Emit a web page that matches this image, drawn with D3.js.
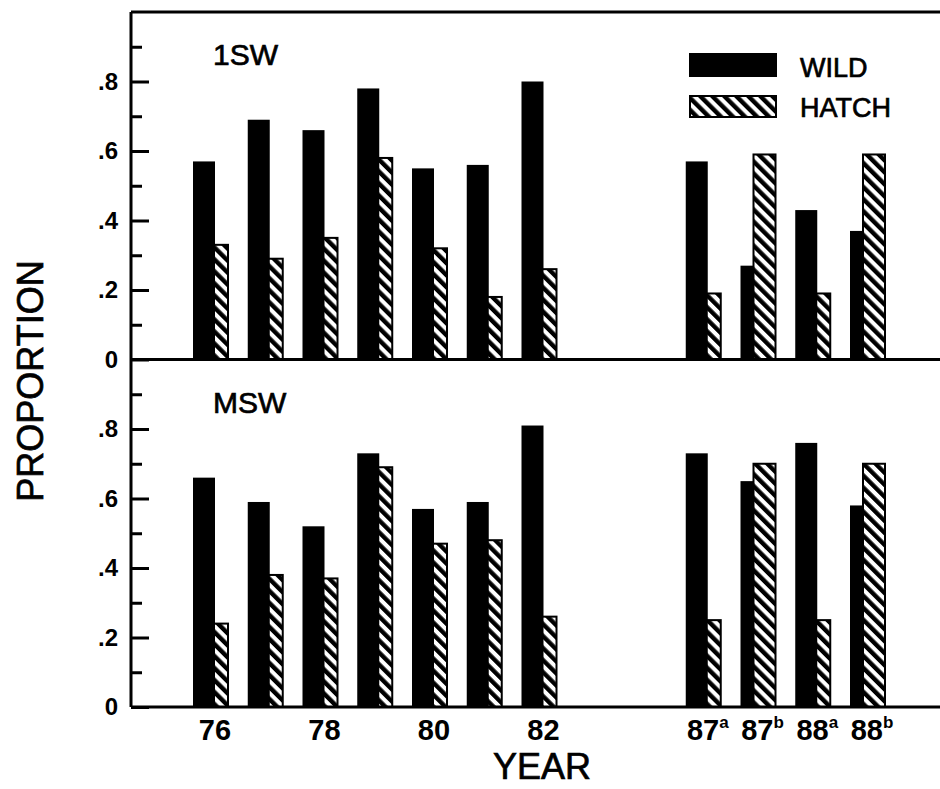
<!DOCTYPE html>
<html>
<head>
<meta charset="utf-8">
<script src="https://cdn.jsdelivr.net/npm/d3@7"></script>
<style>
  body { margin: 0; background: #fff; }
  svg { display: block; font-family: "Liberation Sans", Arial, sans-serif; }
  .heavy { stroke: #000; stroke-width: 0.7px; }
</style>
</head>
<body>
<div id="chart"></div>
<script>
// categories (year, with a/b samples for 87 and 88)
const years = ['76', '77', '78', '79', '80', '81', '82', '87a', '87b', '88a', '88b'];
const yearLabels = [
  ['76', ''], ['77', ''], ['78', ''], ['79', ''], ['80', ''], ['81', ''], ['82', ''],
  ['87', 'a'], ['87', 'b'], ['88', 'a'], ['88', 'b']
];
const shownLabels = ['76', '78', '80', '82', '87a', '87b', '88a', '88b'];

// proportions
const wild1SW  = [0.57, 0.69, 0.66, 0.78, 0.55, 0.56, 0.80, 0.57, 0.27, 0.43, 0.37];
const hatch1SW = [0.33, 0.29, 0.35, 0.58, 0.32, 0.18, 0.26, 0.19, 0.59, 0.19, 0.59];
const wildMSW  = [0.66, 0.59, 0.52, 0.73, 0.57, 0.59, 0.81, 0.73, 0.65, 0.76, 0.58];
const hatchMSW = [0.24, 0.38, 0.37, 0.69, 0.47, 0.48, 0.26, 0.25, 0.70, 0.25, 0.70];

const majorTicks = [0, 0.2, 0.4, 0.6, 0.8];
const minorTicks = [0.1, 0.3, 0.5, 0.7, 0.9];

const width = 940, height = 789;
const left = 131, right = 940;

var svg = d3.select('#chart').append('svg')
    .attr('width', width)
    .attr('height', height);

// hatch pattern, stripes running top-left to bottom-right
var defs = svg.append('defs');
var pat = defs.append('pattern')
    .attr('id', 'hatch')
    .attr('patternUnits', 'userSpaceOnUse')
    .attr('width', 8.5)
    .attr('height', 8.5)
    .attr('patternTransform', 'rotate(-45)');
pat.append('rect').attr('width', 8.5).attr('height', 8.5).attr('fill', '#fff');
pat.append('rect').attr('width', 4.4).attr('height', 8.5).attr('fill', '#000');

// x: a band per year, with two empty slots for the gap 83-86
var xDomain = years.slice(0, 7).concat(['gap1', 'gap2'], years.slice(7));
var x = d3.scaleBand()
    .domain(xDomain)
    .range([193, 193 + 13 * 54.75]);

const wideW = 22, offset = 13;

var yTop = d3.scaleLinear().domain([0, 1]).range([359.5, 12]);
var yBot = d3.scaleLinear().domain([0, 1]).range([707, 359.5]);

var fmt = d => d === 0 ? '0' : d3.format('.1f')(d).replace(/^0/, '');

function drawPanel(y, wild, hatch, title, titleY) {
    var g = svg.append('g');

    // bars: the shorter one goes behind, the taller one in front
    years.forEach(function(yr, i) {
        var x0 = x(yr);
        var bars = [
            { v: wild[i], x: x0, kind: 'wild' },
            { v: hatch[i], x: x0 + offset, kind: 'hatch' }
        ].sort((a, b) => a.v - b.v);
        bars.forEach(function(b) {
            var r = g.append('rect')
                .attr('x', b.x)
                .attr('y', y(b.v))
                .attr('width', wideW)
                .attr('height', y(0) - y(b.v));
            if (b.kind === 'wild') {
                r.attr('fill', '#000');
            } else {
                r.attr('fill', 'url(#hatch)')
                    .attr('stroke', '#000')
                    .attr('stroke-width', 2);
            }
        });
    });

    // y axis, ticks pointing inward
    var major = d3.axisLeft(y).tickValues(majorTicks).tickFormat(fmt)
        .tickSizeInner(-18).tickSizeOuter(0).tickPadding(13);
    var minor = d3.axisLeft(y).tickValues(minorTicks).tickFormat('')
        .tickSizeInner(-11).tickSizeOuter(0);

    var ax = g.append('g').attr('transform', `translate(${left},0)`).call(major);
    ax.select('.domain').remove();
    ax.selectAll('line').attr('stroke', '#000').attr('stroke-width', 3);
    ax.selectAll('text')
        .attr('fill', '#000')
        .style('font-size', '24px')
        .style('font-weight', 'bold');

    var mx = g.append('g').attr('transform', `translate(${left},0)`).call(minor);
    mx.select('.domain').remove();
    mx.selectAll('line').attr('stroke', '#000').attr('stroke-width', 3);

    g.append('text')
        .attr('class', 'heavy')
        .attr('x', 213)
        .attr('y', titleY)
        .style('font-size', '30px')
        .text(title);
}

drawPanel(yTop, wild1SW, hatch1SW, '1SW', 65);
drawPanel(yBot, wildMSW, hatchMSW, 'MSW', 413);

// frame lines
var frame = svg.append('g').attr('stroke', '#000').attr('stroke-width', 3);
frame.append('line').attr('x1', left).attr('x2', left).attr('y1', yTop(1)).attr('y2', yBot(0));
frame.append('line').attr('x1', left).attr('x2', right).attr('y1', yTop(1)).attr('y2', yTop(1));
frame.append('line').attr('x1', left).attr('x2', right).attr('y1', yTop(0)).attr('y2', yTop(0));
frame.append('line').attr('x1', left).attr('x2', right).attr('y1', yBot(0)).attr('y2', yBot(0));

// x labels
var xl = svg.append('g');
years.forEach(function(yr, i) {
    if (shownLabels.indexOf(yr) < 0) return;
    var t = xl.append('text')
        .attr('x', x(yr) + 22)
        .attr('y', 740)
        .attr('text-anchor', 'middle')
        .style('font-size', '29px')
        .style('font-weight', 'bold')
        .text(yearLabels[i][0]);
    if (yearLabels[i][1]) {
        t.append('tspan')
            .attr('dy', -12)
            .style('font-size', '17px')
            .text(yearLabels[i][1]);
    }
});

svg.append('text')
    .attr('class', 'heavy')
    .attr('x', 542)
    .attr('y', 779)
    .attr('text-anchor', 'middle')
    .style('font-size', '36px')
    .text('YEAR');

svg.append('text')
    .attr('class', 'heavy')
    .attr('transform', 'translate(43,381) rotate(-90)')
    .attr('text-anchor', 'middle')
    .style('font-size', '36px')
    .text('PROPORTION');

// legend
var leg = svg.append('g');
leg.append('rect').attr('x', 689).attr('y', 53).attr('width', 88).attr('height', 24).attr('fill', '#000');
leg.append('rect').attr('x', 690).attr('y', 96).attr('width', 86).attr('height', 21)
    .attr('fill', 'url(#hatch)').attr('stroke', '#000').attr('stroke-width', 2);
leg.append('text').attr('class', 'heavy').attr('x', 800).attr('y', 77).style('font-size', '27px').text('WILD');
leg.append('text').attr('class', 'heavy').attr('x', 800).attr('y', 117).style('font-size', '27px').text('HATCH');
</script>
</body>
</html>
